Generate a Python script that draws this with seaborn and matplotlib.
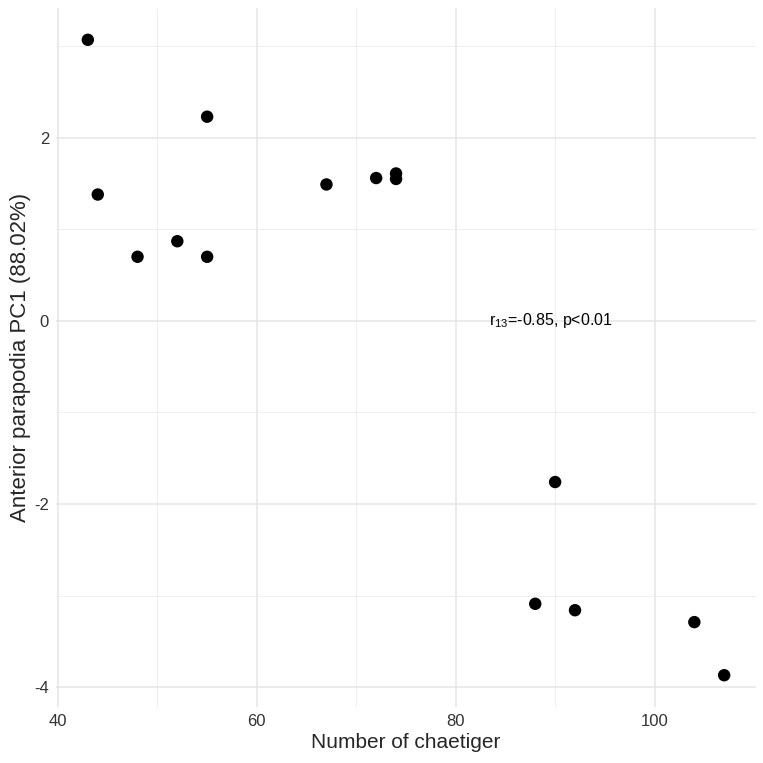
import matplotlib
matplotlib.use("Agg")
import matplotlib.pyplot as plt
import seaborn as sns
import pandas as pd

# values
chaetiger = [43, 55, 44, 48, 52, 55, 67, 72, 74, 74, 90, 88, 92, 104, 107]
pc1 = [3.07, 2.23, 1.38, 0.70, 0.87, 0.70, 1.49, 1.56, 1.61, 1.55,
       -1.76, -3.09, -3.16, -3.29, -3.87]
x_ticks = [40, 60, 80, 100]
y_ticks = [-4, -2, 0, 2]
x_minor = [50, 70, 90]
y_minor = [-3, -1, 1, 3]

df = pd.DataFrame({"chaetiger": chaetiger, "pc1": pc1})

sns.set_style("white")
plt.rcParams["font.family"] = ["Liberation Sans", "DejaVu Sans"]
plt.rcParams["mathtext.fontset"] = "custom"
plt.rcParams["mathtext.rm"] = "Liberation Sans"
plt.rcParams["mathtext.default"] = "regular"

fig = plt.figure(figsize=(7.63, 7.63), dpi=100)
ax = fig.add_axes([0.0734, 0.0734, 0.9174, 0.9161])

# ggplot-like 5% expansion
xr = max(chaetiger) - min(chaetiger)
yr = max(pc1) - min(pc1)
ax.set_xlim(min(chaetiger) - 0.05 * xr, max(chaetiger) + 0.05 * xr)
ax.set_ylim(min(pc1) - 0.05 * yr, max(pc1) + 0.05 * yr)

# grid (theme_minimal)
for v in x_ticks:
    ax.axvline(v, color="#E5E5E5", lw=1.1, zorder=0)
for v in x_minor:
    ax.axvline(v, color="#EBEBEB", lw=0.6, zorder=0)
for v in y_ticks:
    ax.axhline(v, color="#E5E5E5", lw=1.1, zorder=0)
for v in y_minor:
    ax.axhline(v, color="#EBEBEB", lw=0.6, zorder=0)

sns.scatterplot(data=df, x="chaetiger", y="pc1", ax=ax, color="black",
                s=80, edgecolor="none", zorder=3)

ax.text(89.6, 0, "r$_{13}$=-0.85, p<0.01", ha="center", va="center",
        fontsize=11.5, color="black")

ax.set_xticks(x_ticks)
ax.set_yticks(y_ticks)
ax.set_xticklabels([str(v) for v in x_ticks])
ax.set_yticklabels([str(v) for v in y_ticks])
ax.tick_params(axis="both", length=0, labelsize=12, labelcolor="#333333", pad=5)
ax.set_xlabel("Number of chaetiger", fontsize=15, labelpad=3)
ax.set_ylabel("Anterior parapodia PC1 (88.02%)", fontsize=16, labelpad=2)
for s in ax.spines.values():
    s.set_visible(False)

fig.savefig("out.png", dpi=100)
